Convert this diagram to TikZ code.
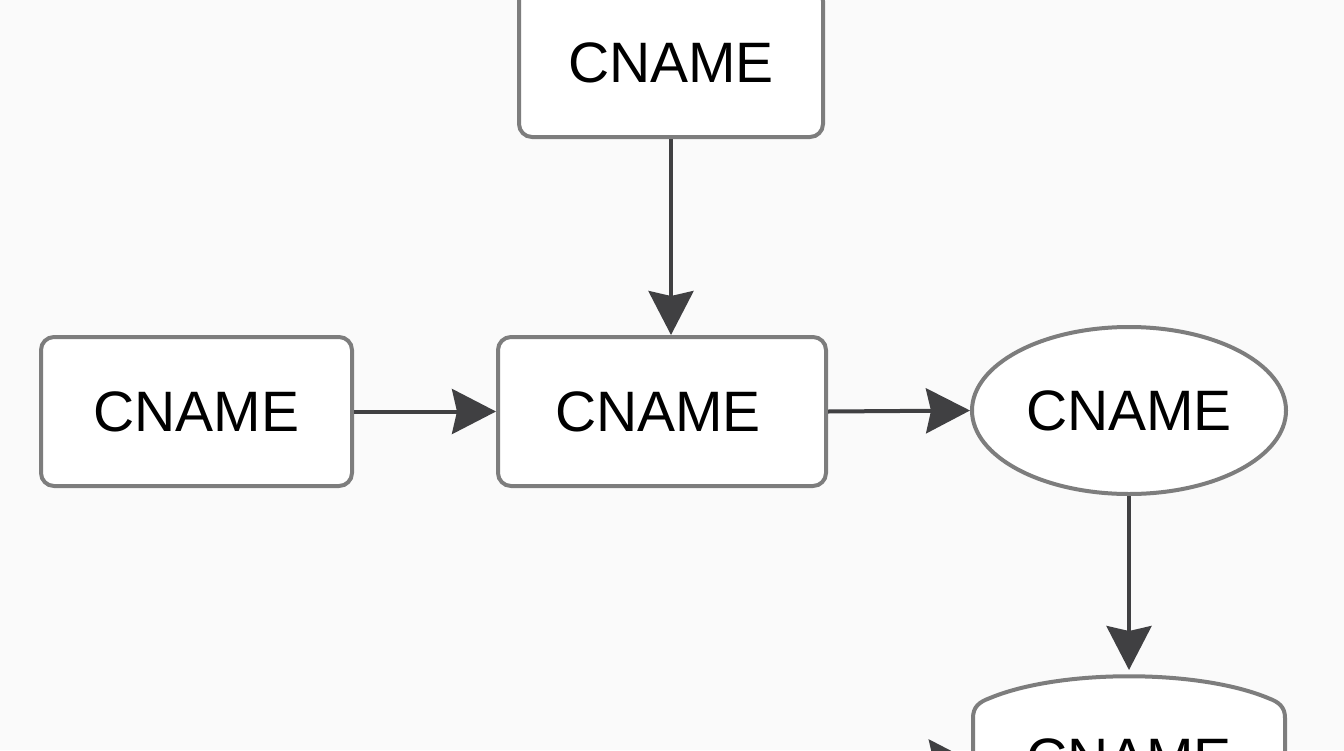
\documentclass[tikz,border=0pt]{standalone}
\usepackage{fontspec}
\setmainfont{Liberation Sans}
\usetikzlibrary{arrows.meta,shapes.geometric,calc}
\definecolor{bg}{RGB}{250,250,250}
\definecolor{edge}{RGB}{125,125,125}
\definecolor{arr}{RGB}{64,64,66}
\begin{document}
\begin{tikzpicture}[x=1pt,y=-1pt,
  box/.style={draw=edge,line width=4pt,rounded corners=13pt,fill=white,
    minimum height=149pt,inner sep=0pt,font=\fontsize{57}{60}\selectfont},
  oval/.style={ellipse,draw=edge,line width=4pt,fill=white,inner sep=0pt,
    minimum width=314pt,minimum height=167pt,font=\fontsize{57}{60}\selectfont},
  plain/.style={inner sep=0pt,minimum width=312pt,minimum height=180pt,
    font=\fontsize{57}{60}\selectfont},
  flow/.style={draw=arr,line width=4pt,-{Stealth[length=44pt,width=45pt,inset=5pt]}}]
\fill[bg] (0,0) rectangle (1344,750);
\useasboundingbox (0,0) rectangle (1344,750);
\node[box,minimum width=304pt] (top) at (671,62.5) {CNAME};
\node[box,minimum width=311pt] (left) at (196.5,411.5) {CNAME};
\node[box,minimum width=328pt] (mid) at (662,411.5) {\hspace*{-8pt}CNAME};
\node[oval] (ell) at (1129,410.5) {CNAME};
\node[plain] (bot) at (1129,760) {};
\draw[edge,line width=4pt,fill=white] (973,800) -- (973,718)
  .. controls (973,707) and (979,702) .. (990,698)
  .. controls (1060,669) and (1198,669) .. (1268,698)
  .. controls (1279,702) and (1285,707) .. (1285,718) -- (1285,800);
\node[font=\fontsize{57}{60}\selectfont,inner sep=0pt] (bottxt) at (1129,759) {CNAME};
\coordinate (src) at (830,762);
\draw[flow] (top.south) -- (top.south |- mid.north);
\draw[flow] (left.east) -- (mid.west);
\draw[flow] (mid.east) -- (ell.west);
\draw[flow] (ell.south) -- (1129,670);
\draw[flow] (src) -- (src -| bot.west);
\end{tikzpicture}
\end{document}
